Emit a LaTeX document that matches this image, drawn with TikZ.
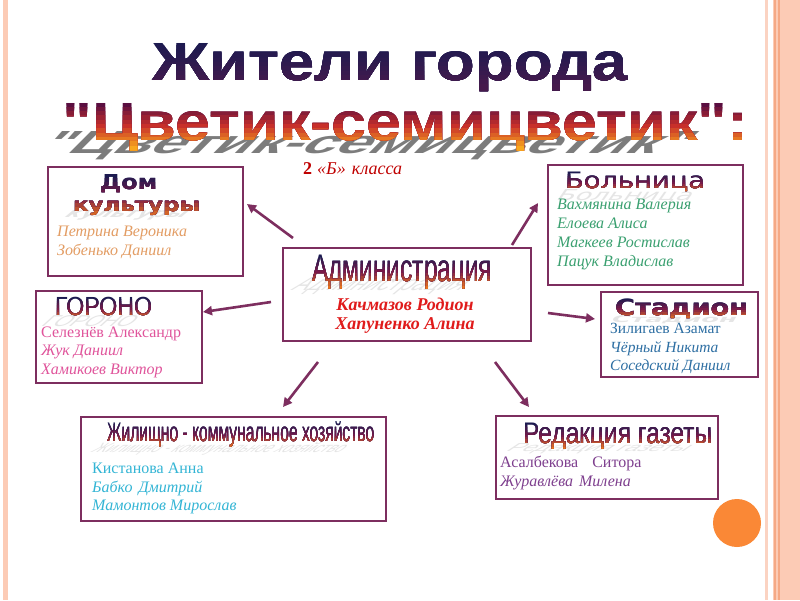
\documentclass[tikz,border=0pt]{standalone}
\usepackage{fontspec}
\setmainfont{Liberation Serif}
\newfontfamily\arialf[Ligatures=TeXOff]{Liberation Sans}
\newfontfamily\dejaf{DejaVu Sans}
\usetikzlibrary{arrows.meta}
\definecolor{bord}{HTML}{7D2E5F}
\definecolor{peachA}{HTML}{FCCBB5}
\definecolor{peachB}{HTML}{F5A985}
\definecolor{peachC}{HTML}{FBD3C2}
\definecolor{dotc}{HTML}{FA8836}
\definecolor{navyH}{HTML}{1C1A50}
\definecolor{maroonH}{HTML}{7A1A48}
\definecolor{orangeH}{HTML}{E8761E}
\definecolor{domc}{HTML}{E39D64}
\definecolor{bolc}{HTML}{3AA070}
\definecolor{admc}{HTML}{E01B1B}
\definecolor{gorc}{HTML}{E0549B}
\definecolor{stadc}{HTML}{2E6FA3}
\definecolor{jkhc}{HTML}{33B5D5}
\definecolor{redc}{HTML}{7E3F8E}
\definecolor{clsc}{HTML}{C00000}
\colorlet{gA}{black}\colorlet{gB}{black}\colorlet{gC}{black}
% gradient text: #1 name, #2 at, #3 options, #4 content, #5 y top, #6 y bottom
\newcommand\gtext[6]{%
  \node[#3,text=gA] (#1) at #2 {#4};
  \foreach \i in {1,...,10}{%
    \pgfmathsetmacro\yy{#5+(#6-#5)*\i/10}%
    \ifnum\i<6 \pgfmathtruncatemacro\pp{\i*20}\edef\cc{gB!\pp!gA}%
    \else \pgfmathtruncatemacro\pp{(\i-5)*20}\edef\cc{gC!\pp!gB}\fi
    \begin{scope}
      \clip (0,\yy) rectangle (800,620);
      \node[#3,text=\cc] (#1-\i) at #2 {#4};
    \end{scope}
  }%
}
\begin{document}
\begin{tikzpicture}[x=1pt,y=-1pt,
  box/.style={draw=bord,line width=2pt,fill=white,inner sep=0pt,anchor=north west},
  arr/.style={draw=bord,line width=2.6pt,-{Triangle[length=9pt,width=9pt]}},
  nm/.style={anchor=base west,inner sep=0pt,font=\fontsize{16}{19}\selectfont},
  hd/.style={anchor=base west,inner sep=0pt},
  shd/.style={anchor=base west,inner sep=0pt,text=gray!45,opacity=0.45}]
\useasboundingbox (0,0) rectangle (800,600);
\fill[white] (0,0) rectangle (800,600);
% borders
\fill[peachA] (3,0) rectangle (8,600);
\fill[peachC] (765,0) rectangle (768,600);
\fill[peachA] (773,0) rectangle (800,600);
\fill[peachB] (774,0) rectangle (776,600);
\fill[peachB] (778,0) rectangle (780,600);
\fill[dotc] (737,523) circle (24);

% boxes
\node[box,minimum width=195pt,minimum height=109pt] (dom) at (47,166) {};
\node[box,minimum width=195pt,minimum height=120pt] (bol) at (547,164) {};
\node[box,minimum width=248pt,minimum height=93pt] (adm) at (282,247) {};
\node[box,minimum width=166pt,minimum height=92pt] (gor) at (35,290) {};
\node[box,minimum width=157pt,minimum height=85pt] (stad) at (600,291) {};
\node[box,minimum width=305pt,minimum height=104pt] (jkh) at (80,416) {};
\node[box,minimum width=222pt,minimum height=83pt] (red) at (495,415) {};

% arrows
\coordinate (a1s) at (293,238); \coordinate (a1e) at (247,204);
\coordinate (a2s) at (512,245); \coordinate (a2e) at (538,203);
\coordinate (a3s) at (271,302); \coordinate (a3e) at (203,312);
\coordinate (a4s) at (548,313); \coordinate (a4e) at (595,319);
\coordinate (a5s) at (318,362); \coordinate (a5e) at (283,407);
\coordinate (a6s) at (495,362); \coordinate (a6e) at (529,407);
\draw[arr] (a1s) -- (a1e);
\draw[arr] (a2s) -- (a2e);
\draw[arr] (a3s) -- (a3e);
\draw[arr] (a4s) -- (a4e);
\draw[arr] (a5s) -- (a5e);
\draw[arr] (a6s) -- (a6e);

% title
\colorlet{gA}{navyH}\colorlet{gB}{navyH!80!maroonH}\colorlet{gC}{navyH!55!maroonH}
\gtext{t1}{(152,80)}{hd}{\resizebox{475pt}{37pt}{\arialf\bfseries Жители города}}{41}{84}
\node[hd,text=black!60,opacity=0.85,xslant=1.0] (t2s) at (36,153) {\resizebox{645pt}{22pt}{\arialf\bfseries "Цветик-семицветик"}};
\definecolor{gA}{HTML}{5A0E40}\definecolor{gB}{HTML}{C8302A}\definecolor{gC}{HTML}{F8A81E}
\gtext{t2}{(62,140)}{hd}{\resizebox{686pt}{37pt}{\arialf\bfseries "Цветик-семицветик":}}{103}{146}
\node[hd,text=clsc,font=\fontsize{18}{20}\selectfont\itshape] (cls) at (303,174) {{\bfseries\upshape 2}\hspace{5pt}«Б»\hspace{6pt}класса};

% header shadows
\node[shd,xslant=1.2] (s-kul) at (63,217) {\resizebox{120pt}{7pt}{\dejaf\bfseries культуры}};
\node[shd,xslant=0.7] (s-bol) at (555,200) {\resizebox{135pt}{11pt}{\dejaf Больница}};
\node[shd,xslant=1.2] (s-adm) at (290,290) {\resizebox{170pt}{14pt}{\arialf Администрация}};
\node[shd,xslant=1.1] (s-gor) at (40,326) {\resizebox{90pt}{11pt}{\arialf ГОРОНО}};
\node[shd,xslant=0.6] (s-stad) at (610,322) {\resizebox{125pt}{7pt}{\dejaf\bfseries Стадион}};
\node[shd,xslant=1.3] (s-jkh) at (90,452) {\resizebox{250pt}{10pt}{\arialf Жилищно - коммунальное хозяйство}};
\node[shd,xslant=1.5] (s-red) at (505,451) {\resizebox{180pt}{8pt}{\arialf Редакция газеты}};

% headers
\colorlet{gA}{navyH}\colorlet{gB}{maroonH}\colorlet{gC}{orangeH}
\gtext{h-dom}{(100,189)}{hd}{\resizebox{57pt}{15pt}{\dejaf\bfseries Дом}}{174}{216}
\gtext{h-kul}{(73,211)}{hd}{\resizebox{127pt}{10.5pt}{\dejaf\bfseries культуры}}{174}{216}
\gtext{h-bol}{(565,188.5)}{hd}{\resizebox{140pt}{16.5pt}{\dejaf Больница}}{172}{193}
\gtext{h-adm}{(312,281.5)}{hd}{\resizebox{180pt}{26.5pt}{\arialf Администрация}}{255}{286}
\gtext{h-gor}{(55,315)}{hd}{\resizebox{97pt}{18.3pt}{\arialf ГОРОНО}}{297}{319}
\gtext{h-stad}{(615,315)}{hd}{\resizebox{133pt}{16.7pt}{\dejaf\bfseries Стадион}}{298}{319}
\gtext{h-jkh}{(107,441.7)}{hd}{\resizebox{267pt}{20pt}{\arialf Жилищно - коммунальное хозяйство}}{422}{446}
\gtext{h-red}{(523,443.3)}{hd}{\resizebox{189pt}{20.5pt}{\arialf Редакция газеты}}{423}{447}

% names
\node[nm,text=domc,font=\fontsize{16}{19}\selectfont\itshape] (n-d1) at (57,236) {Петрина Вероника};
\node[nm,text=domc,font=\fontsize{16}{19}\selectfont\itshape] (n-d2) at (57,255) {Зобенько Даниил};

\node[nm,text=bolc,font=\fontsize{16}{19}\selectfont\itshape] (n-b1) at (557,209) {Вахмянина Валерия};
\node[nm,text=bolc,font=\fontsize{16}{19}\selectfont\itshape] (n-b2) at (557,228) {Елоева Алиса};
\node[nm,text=bolc,font=\fontsize{16}{19}\selectfont\itshape] (n-b3) at (557,247) {Магкеев Ростислав};
\node[nm,text=bolc,font=\fontsize{16}{19}\selectfont\itshape] (n-b4) at (557,266) {Пацук Владислав};

\node[anchor=base,inner sep=0pt,text=admc,font=\fontsize{18}{20}\selectfont\bfseries\itshape] (n-a1) at (405,310) {Качмазов Родион};
\node[anchor=base,inner sep=0pt,text=admc,font=\fontsize{18}{20}\selectfont\bfseries\itshape] (n-a2) at (405,329) {Хапуненко Алина};

\node[nm,text=gorc] (n-g1) at (41,337) {Селезнёв Александр};
\node[nm,text=gorc,font=\fontsize{16}{19}\selectfont\itshape] (n-g2) at (41,355) {Жук Даниил};
\node[nm,text=gorc,font=\fontsize{16}{19}\selectfont\itshape] (n-g3) at (41,374) {Хамикоев Виктор};

\node[nm,text=stadc,font=\fontsize{15.5}{18}\selectfont] (n-s1) at (610,333) {Зилигаев Азамат};
\node[nm,text=stadc,font=\fontsize{15.5}{18}\selectfont\itshape] (n-s2) at (610,352) {Чёрный Никита};
\node[nm,text=stadc,font=\fontsize{15.5}{18}\selectfont\itshape] (n-s3) at (610,370) {Соседский Даниил};

\node[nm,text=jkhc] (n-j1) at (92,473) {Кистанова Анна};
\node[nm,text=jkhc,font=\fontsize{16}{19}\selectfont\itshape] (n-j2) at (92,492) {Бабко\hspace{6pt}Дмитрий};
\node[nm,text=jkhc,font=\fontsize{16}{19}\selectfont\itshape] (n-j3) at (92,510) {Мамонтов Мирослав};

\node[nm,text=redc] (n-r1) at (500,467) {Асалбекова\hspace{14pt}Ситора};
\node[nm,text=redc,font=\fontsize{16}{19}\selectfont\itshape] (n-r2) at (500,486) {Журавлёва\hspace{6pt}Милена};
\end{tikzpicture}
\end{document}
